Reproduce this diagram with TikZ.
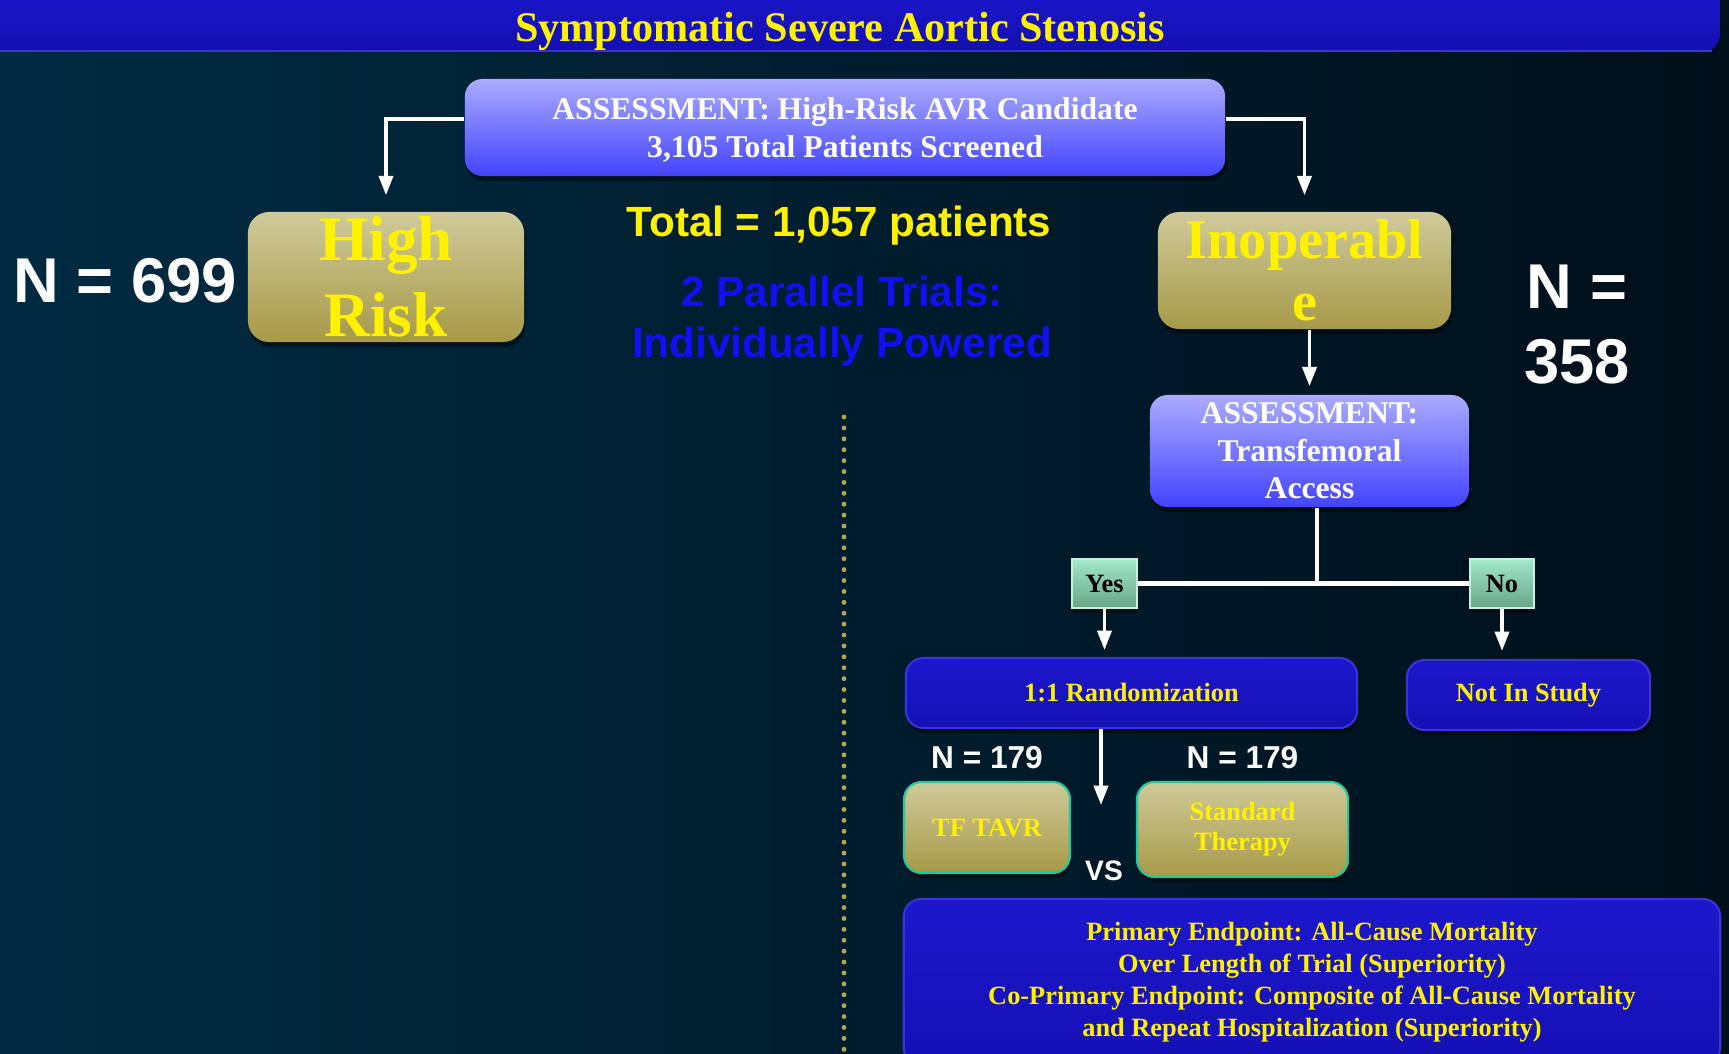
\documentclass[tikz,border=0pt]{standalone}
\usepackage{fontspec}
\setmainfont{Liberation Serif}
\setsansfont{Liberation Sans}
\usetikzlibrary{positioning,shapes,shadows,arrows.meta}

\definecolor{bgleft}{HTML}{002B42}
\definecolor{bgright}{HTML}{000F1A}
\definecolor{bannertop}{HTML}{1C18D0}
\definecolor{bannerbot}{HTML}{140FB0}
\definecolor{lavtop}{HTML}{ABABFF}
\definecolor{lavbot}{HTML}{4343FF}
\definecolor{goldtop}{HTML}{CFCA9A}
\definecolor{goldbot}{HTML}{A69A48}
\definecolor{mintop}{HTML}{A2E8CA}
\definecolor{minbot}{HTML}{66A585}
\definecolor{navytop}{HTML}{1D17CC}
\definecolor{navybot}{HTML}{1510B4}
\definecolor{navyedge}{HTML}{3834D6}
\definecolor{tealedge}{HTML}{22C8A0}
\definecolor{dotgold}{HTML}{B2A552}
\definecolor{trialblue}{HTML}{1010F2}

\tikzset{softshadow/.style={drop shadow={black, opacity=0.45, shadow xshift=0.4pt, shadow yshift=-1.4pt}}}
\tikzstyle{banner} = [text=yellow, font=\fontsize{12}{14}\selectfont\bfseries]
\tikzstyle{assessbox} = [rectangle, rounded corners=5pt, top color=lavtop, bottom color=lavbot, text=white, align=center, inner sep=1pt, font=\fontsize{9}{10.7}\selectfont\bfseries, softshadow]
\tikzstyle{riskbox} = [rectangle, rounded corners=6pt, top color=goldtop, bottom color=goldbot, text=yellow, align=center, inner sep=1pt, softshadow]
\tikzstyle{armbox} = [rectangle, rounded corners=5pt, top color=goldtop, bottom color=goldbot, draw=tealedge, line width=0.6pt, text=yellow, align=center, inner sep=1pt, font=\fontsize{7.5}{8.6}\selectfont\bfseries, softshadow]
\tikzstyle{choicebox} = [rectangle, top color=mintop, bottom color=minbot, draw=mintop!60!white, line width=0.3pt, text=black, inner sep=1pt, font=\fontsize{7.5}{9}\selectfont\bfseries, softshadow]
\tikzstyle{navybox} = [rectangle, rounded corners=5pt, top color=navytop, bottom color=navybot, draw=navyedge, line width=0.6pt, text=yellow, align=center, inner sep=1pt, font=\fontsize{7.5}{9.1}\selectfont\bfseries, softshadow]
\tikzstyle{countlabel} = [text=white, align=center, font=\sffamily\bfseries]
\tikzstyle{arrow} = [white, line width=1pt, -{Triangle[length=5.5pt, width=4pt]}]
\tikzstyle{link} = [white, line width=1.4pt]

\begin{document}
\begin{tikzpicture}[x=0.01cm, y=-0.01cm]
\useasboundingbox (0,0) rectangle (1729,1054);
\fill[left color=bgleft, right color=bgright] (0,0) rectangle (1729,1054);

% title bar
\fill[top color=bannertop, bottom color=bannerbot, rounded corners=5pt] (-20,-20) rectangle (1720,52);
\draw[navyedge, line width=0.8pt] (0,51) -- (1712,51);
\node (title) [banner] at (840,31) {Symptomatic Severe Aortic Stenosis};

\node (assess) [assessbox, minimum width=7.6cm, minimum height=0.97cm, text depth=0pt] at (845,127.5) {ASSESSMENT: High-Risk AVR Candidate\\3,105 Total Patients Screened};

\node (highrisk) [riskbox, minimum width=2.76cm, minimum height=1.30cm, font=\fontsize{18}{21.7}\selectfont\bfseries] at (386,277) {High\\Risk};
\node (inop) [riskbox, minimum width=2.93cm, minimum height=1.17cm, font=\fontsize{16}{17.6}\selectfont\bfseries] at (1304.5,270.5) {Inoperabl\\e};

\node (nhigh) [countlabel, font=\fontsize{18}{21}\sffamily\bfseries] at (125,281) {N = 699};
\node (ninop) [countlabel, font=\fontsize{18}{21.3}\sffamily\bfseries] at (1577,325) {N =\\358};

\node (total) [text=yellow, font=\fontsize{12}{14}\sffamily\bfseries] at (839,225.5) {Total = 1,057 patients};
\node (trials) [text=trialblue, align=center, font=\fontsize{12}{14.4}\sffamily\bfseries] at (842,321) {2 Parallel Trials:\\Individually Powered};

\draw[dotgold, line width=1.4pt, line cap=round, dash pattern=on 0pt off 3.1pt] (844,417) -- (844,1054);

\draw[arrow, shorten >=0.16cm] ([yshift=0.085cm]assess.west) -| (highrisk.north);
\draw[arrow, shorten >=0.16cm] ([yshift=0.085cm]assess.east) -| (inop.north);

\node (tfa) [assessbox, minimum width=3.19cm, minimum height=1.12cm] at (1309.5,451) {ASSESSMENT:\\Transfemoral\\Access};
\draw[arrow, shorten >=0.08cm] (tfa.north |- inop.south) -- (tfa.north);

\node (yes) [choicebox, minimum width=0.65cm, minimum height=0.49cm] at (1104.5,583.5) {Yes};
\node (no) [choicebox, minimum width=0.64cm, minimum height=0.49cm] at (1502,583.5) {No};
\coordinate (fork) at (1317,581);
\draw[link] (yes) -- (no);
\draw[link] (tfa.south -| fork) -- (fork);

\node (random) [navybox, minimum width=4.51cm, minimum height=0.70cm] at (1131.5,693) {1:1 Randomization};
\node (notin) [navybox, minimum width=2.43cm, minimum height=0.70cm] at (1528.5,695) {Not In Study};
\draw[arrow, shorten >=0.07cm] (yes) -- (yes |- random.north);
\draw[arrow, shorten >=0.08cm] (no) -- (no |- notin.north);

\node (tavr) [armbox, minimum width=1.66cm, minimum height=0.91cm] at (987,827.5) {TF TAVR};
\node (standard) [armbox, minimum width=2.11cm, minimum height=0.95cm] at (1242.5,829.5) {Standard\\Therapy};
\node (ntavr) [countlabel, font=\fontsize{9}{11}\sffamily\bfseries, above=0pt of tavr] {N = 179};
\node (nstandard) [countlabel, font=\fontsize{9}{11}\sffamily\bfseries, above=0pt of standard] {N = 179};
\node (vs) [countlabel, font=\fontsize{8}{10}\sffamily\bfseries] at (1104,871) {VS};

\coordinate (pick) at (1101,805);
\draw[arrow] (random.south -| pick) -- (pick);

\node (endpt) [navybox, minimum width=8.16cm, minimum height=1.66cm] at (1312,982) {Primary Endpoint: All-Cause Mortality\\Over Length of Trial (Superiority)\\Co-Primary Endpoint: Composite of All-Cause Mortality\\and Repeat Hospitalization (Superiority)};

\end{tikzpicture}
\end{document}
